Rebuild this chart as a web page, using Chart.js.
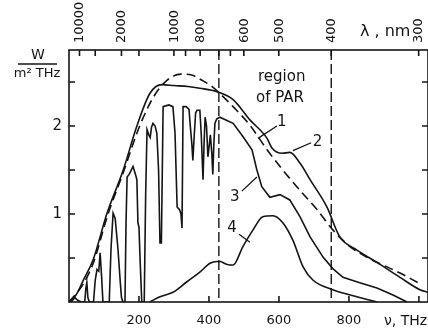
<!DOCTYPE html>
<html>
<head>
<meta charset="utf-8">
<script src="https://cdn.jsdelivr.net/npm/chart.js@4.4.1/dist/chart.umd.min.js"></script>
<style>
  html, body { margin: 0; padding: 0; background: #fff; }
  #wrap { width: 428px; height: 332px; }
</style>
</head>
<body>
<div id="wrap"><canvas id="spectrum" width="428" height="332"></canvas></div>
<script>
// spectral density, W/(m^2 THz), against frequency in THz

// 1 - blackbody curve (dashed)
const nu1 = [0, 40, 70, 110, 155, 200, 240, 280, 320, 350, 380, 405, 431, 469, 517, 566, 611, 660, 709, 754, 803, 851, 897, 946, 997];
const w1  = [0, 0.2, 0.45, 0.98, 1.47, 1.98, 2.32, 2.52, 2.59, 2.58, 2.52, 2.46, 2.37, 2.22, 2.01, 1.73, 1.5, 1.27, 1.05, 0.82, 0.63, 0.51, 0.42, 0.33, 0.22];

// 2 - outside the atmosphere
const nu2 = [0, 20, 40, 69, 108, 155, 194, 231, 266, 300, 340, 374, 423, 469, 517, 566, 580, 609, 631, 660, 689, 737, 774, 823, 880, 946, 1003, 1026];
const w2  = [0, 0.08, 0.24, 0.48, 1.0, 1.5, 2.0, 2.37, 2.47, 2.46, 2.45, 2.43, 2.39, 2.3, 2.07, 1.86, 1.75, 1.69, 1.7, 1.58, 1.39, 1.08, 0.74, 0.59, 0.45, 0.28, 0.14, 0.11];

// 3 - at ground level, with absorption bands
const nu3 = [0, 10, 17, 25, 35, 45, 48, 51, 54, 58, 70, 75, 80, 85, 89, 93, 97, 115, 120, 126, 132, 140, 147, 150, 154,
  160, 163, 166, 172, 183, 190, 194, 197, 200, 203, 208, 215, 219, 223, 228, 232, 236, 240, 246, 251, 256, 260, 264, 267, 269,
  285, 297, 303, 309, 316, 320, 323, 326, 335, 343, 346, 351, 354, 358, 362, 366, 374, 378, 383, 386, 389, 393, 397, 400,
  404, 408, 411, 414, 417, 422, 431, 469, 497, 523, 537, 551, 574, 603, 631, 660, 689, 726, 754, 783, 831, 880, 926, 966];
const w3  = [0, 0.02, 0.05, 0.02, 0, 0, 0.15, 0.22, 0.05, 0, 0, 0.25, 0.37, 0.35, 0.56, 0.3, 0, 0, 0.6, 1.01, 0.95, 0.6, 0.2, 0.05, 0,
  0, 0.9, 1.42, 1.45, 1.54, 1.45, 1.39, 0.9, 0.85, 0.5, 0, 0, 1.2, 1.96, 1.9, 1.87, 1.99, 2.03, 2.0, 1.92, 1.5, 0.67, 0.67, 1.6, 2.22,
  2.24, 2.22, 1.92, 1.08, 1.05, 1.0, 0.84, 2.22, 2.22, 2.19, 2.03, 1.8, 1.61, 1.9, 2.15, 2.18, 2.18, 1.9, 1.39, 1.8, 2.1, 2.0, 1.65, 1.75,
  1.9, 1.7, 1.45, 1.8, 2.03, 2.08, 2.1, 2.03, 1.88, 1.73, 1.5, 1.31, 1.19, 1.22, 1.16, 0.97, 0.74, 0.51, 0.38, 0.28, 0.22, 0.16, 0.08, 0];

// 4 - under water
const nu4 = [231, 260, 297, 337, 374, 403, 423, 431, 450, 469, 497, 526, 554, 583, 611, 640, 669, 697, 754, 823, 880];
const w4  = [0, 0.06, 0.11, 0.23, 0.34, 0.44, 0.46, 0.46, 0.43, 0.42, 0.63, 0.82, 0.97, 0.98, 0.9, 0.7, 0.4, 0.25, 0.14, 0.06, 0];

// axes
const nuTicks = [200, 400, 600, 800, 1000];
const nuLabels = [200, 400, 600, 800];
const wTicks = [0.5, 1, 1.5, 2, 2.5];
const wLabels = [1, 2];
const lambdaTicks = [10000, 4000, 2000, 1500, 1000, 900, 800, 700, 650, 600, 500, 400, 300];
const lambdaLabels = [10000, 2000, 1000, 800, 600, 500, 400, 300];
const parNm = [700, 400];

const C = 299792.458; // nm*THz
const NU_MAX = 1026;
const W_MAX = 2.864;

const pts = (xs, ys) => xs.map((v, i) => ({ x: v, y: ys[i] }));
const FONT = '"DejaVu Sans", sans-serif';
const INK = '#141414';

// labels drawn on the plot, in data units
const notes = [
  { nu: 608, w: 2.56, text: 'region', size: 15 },
  { nu: 603, w: 2.32, text: 'of PAR', size: 15 },
  { nu: 608, w: 2.05, text: '1', size: 15 },
  { nu: 710, w: 1.82, text: '2', size: 15 },
  { nu: 474, w: 1.19, text: '3', size: 15 },
  { nu: 466, w: 0.84, text: '4', size: 15 }
];
const leaders = [
  [540, 1.86, 594, 2.0],
  [640, 1.72, 692, 1.81],
  [494, 1.26, 537, 1.42],
  [486, 0.77, 517, 0.68]
];

const noPad = s => { s.paddingLeft = 0; s.paddingRight = 0; s.paddingTop = 0; s.paddingBottom = 0; };

const decor = {
  id: 'decor',
  afterDraw(chart) {
    const { ctx, chartArea: a } = chart;
    const x = chart.scales.x, y = chart.scales.y;
    ctx.save();
    ctx.strokeStyle = INK;
    ctx.fillStyle = INK;
    ctx.lineWidth = 1.6;
    ctx.strokeRect(a.left, a.top, a.right - a.left, a.bottom - a.top);

    // inward tick marks
    ctx.beginPath();
    nuTicks.forEach(v => {
      const px = x.getPixelForValue(v);
      ctx.moveTo(px, a.bottom); ctx.lineTo(px, a.bottom - 6);
    });
    lambdaTicks.forEach(l => {
      const px = x.getPixelForValue(C / l);
      ctx.moveTo(px, a.top); ctx.lineTo(px, a.top + 6);
    });
    wTicks.forEach(v => {
      const py = y.getPixelForValue(v);
      ctx.moveTo(a.left, py); ctx.lineTo(a.left + 6, py);
      ctx.moveTo(a.right, py); ctx.lineTo(a.right - 6, py);
    });
    ctx.stroke();

    // PAR boundaries
    ctx.setLineDash([10, 4]);
    ctx.lineWidth = 1.4;
    ctx.beginPath();
    parNm.forEach(l => {
      const px = x.getPixelForValue(C / l);
      ctx.moveTo(px, a.top); ctx.lineTo(px, a.bottom);
    });
    ctx.stroke();
    ctx.setLineDash([]);

    // leader lines for curve numbers
    ctx.lineWidth = 1.3;
    ctx.beginPath();
    leaders.forEach(([n0, w0, n1, w1_]) => {
      ctx.moveTo(x.getPixelForValue(n0), y.getPixelForValue(w0));
      ctx.lineTo(x.getPixelForValue(n1), y.getPixelForValue(w1_));
    });
    ctx.stroke();

    ctx.textAlign = 'center';
    ctx.textBaseline = 'middle';
    notes.forEach(n => {
      ctx.font = n.size + 'px ' + FONT;
      ctx.fillText(n.text, x.getPixelForValue(n.nu), y.getPixelForValue(n.w));
    });

    // axis names
    ctx.font = '16px ' + FONT;
    ctx.textAlign = 'left';
    ctx.fillText('\u03bb , nm', 360, 32);
    ctx.font = '14px ' + FONT;
    ctx.fillText('\u03bd, THz', 384, 321);

    // unit of the y axis
    ctx.textAlign = 'center';
    ctx.font = '14px ' + FONT;
    ctx.fillText('W', 38, 55);
    ctx.font = '13px ' + FONT;
    ctx.fillText('m\u00b2 THz', 37, 74);
    ctx.lineWidth = 1.4;
    ctx.beginPath();
    ctx.moveTo(18, 64); ctx.lineTo(57, 64);
    ctx.stroke();
    ctx.restore();
  }
};

const line = (data, extra) => Object.assign({
  data,
  borderColor: INK,
  borderWidth: 1.6,
  pointRadius: 0,
  fill: false,
  cubicInterpolationMode: 'monotone'
}, extra);

new Chart(document.getElementById('spectrum'), {
  type: 'line',
  data: {
    datasets: [
      line(pts(nu1, w1), { borderDash: [9, 5] }),
      line(pts(nu2, w2)),
      line(pts(nu3, w3), { cubicInterpolationMode: 'default', tension: 0 }),
      line(pts(nu4, w4))
    ]
  },
  options: {
    responsive: false,
    animation: false,
    layout: { padding: 0 },
    plugins: { legend: { display: false }, tooltip: { enabled: false } },
    scales: {
      x: {
        type: 'linear',
        position: 'bottom',
        min: 0,
        max: NU_MAX,
        grid: { display: false, drawTicks: false },
        border: { display: false },
        afterBuildTicks: s => { s.ticks = nuLabels.map(v => ({ value: v })); },
        ticks: {
          maxRotation: 0,
          autoSkip: false,
          padding: 11,
          color: INK,
          font: { family: FONT, size: 13 },
          callback: v => String(v)
        },
        afterFit: s => { s.height = 30; noPad(s); }
      },
      xTop: {
        type: 'linear',
        position: 'top',
        min: 0,
        max: NU_MAX,
        grid: { display: false, drawTicks: false },
        border: { display: false },
        afterBuildTicks: s => {
          s.ticks = lambdaTicks.map(l => ({ value: C / l }));
        },
        ticks: {
          autoSkip: false,
          minRotation: 90,
          maxRotation: 90,
          labelOffset: 16,
          padding: 7,
          color: INK,
          font: { family: FONT, size: 13 },
          callback: (v, i) => lambdaLabels.includes(lambdaTicks[i]) ? String(lambdaTicks[i]) : ''
        },
        afterFit: s => { s.height = 50; noPad(s); }
      },
      y: {
        position: 'left',
        min: 0,
        max: W_MAX,
        grid: { display: false, drawTicks: false },
        border: { display: false },
        afterBuildTicks: s => { s.ticks = wLabels.map(v => ({ value: v })); },
        ticks: {
          padding: 7,
          color: INK,
          font: { family: FONT, size: 15 },
          callback: v => String(v)
        },
        afterFit: s => { s.width = 69; noPad(s); }
      }
    }
  },
  plugins: [decor]
});
</script>
</body>
</html>
